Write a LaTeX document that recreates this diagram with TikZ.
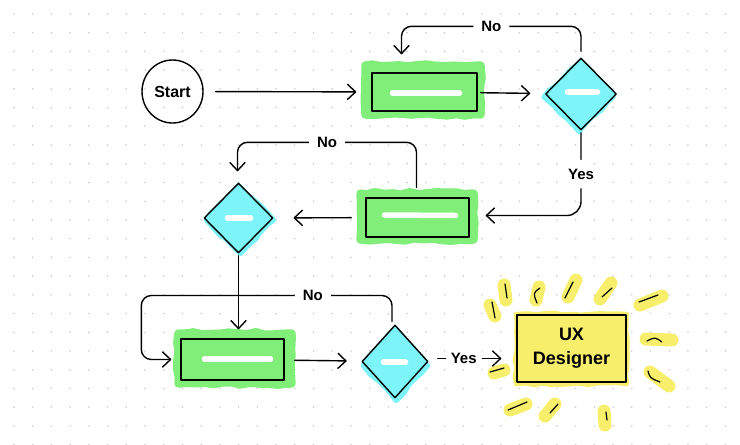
\documentclass[tikz,border=0pt]{standalone}
\usepackage{fontspec}
\setmainfont{Liberation Sans}
\usetikzlibrary{shapes.geometric, arrows.meta, calc, backgrounds, decorations.pathmorphing}

\definecolor{glowgreen}{RGB}{130,238,122}
\definecolor{glowcyan}{RGB}{125,245,248}
\definecolor{glowyellow}{RGB}{247,238,108}
\definecolor{dotgray}{RGB}{205,205,205}

\begin{document}
\begin{tikzpicture}[x=1pt, y=-1pt,
  ink/.style={draw=black, line width=1.4pt, line cap=round, line join=round},
  arr/.style={ink, -{Straight Barb[length=8pt, width=15pt, round]}},
  startnode/.style={ink, ellipse, inner sep=0pt, font=\bfseries\fontsize{16}{19}\selectfont},
  procbox/.style={ink, rectangle, inner sep=0pt},
  decision/.style={ink, diamond, inner sep=0pt},
  uxbox/.style={ink, rectangle, fill=glowyellow, inner sep=0pt, align=center, font=\bfseries\fontsize{18}{24}\selectfont},
  lab/.style={font=\bfseries\fontsize{15}{18}\selectfont, fill=white, inner xsep=8pt, inner ysep=3pt},
  wdash/.style={draw=white, line width=5.5pt, line cap=round},
  blob/.style={decoration={random steps, segment length=9pt, amplitude=1.3pt}, decorate, line width=8pt, line join=round},
  ray/.style={draw=glowyellow, line width=13pt, line cap=round},
  rayink/.style={draw=black, line width=1.2pt, line cap=round}
]
\pgfmathsetseed{11}
\useasboundingbox (0,0) rectangle (740,445);

% nodes
\node[startnode, minimum width=61pt, minimum height=63pt] (start) at (172.5,91.5) {Start};
\node[procbox, minimum width=105pt, minimum height=38pt] (box1) at (424.5,92) {};
\node[decision, minimum width=71pt, minimum height=72pt] (d1) at (581,94) {};
\node[procbox, minimum width=103pt, minimum height=39pt] (box2) at (417.5,217.5) {};
\node[decision, minimum width=69pt, minimum height=70pt] (d2) at (238.5,218) {};
\node[procbox, minimum width=103pt, minimum height=41pt] (box3) at (232.5,359.5) {};
\node[decision, minimum width=66pt, minimum height=73pt] (d3) at (395,361.5) {};
\node[uxbox, minimum width=109pt, minimum height=67pt] (ux) at (571.5,348.5) {UX\\Designer};

% background: grid, glows, rays
\begin{scope}[on background layer]
  \foreach \i in {0,...,38} {
    \foreach \j in {0,...,23} {
      \fill[dotgray] ({14+18.72*\i},{14+18.72*\j}) circle (0.9pt);
    }
  }
  % green glows
  \filldraw[glowgreen, blob] ($(box1.north west)+(-6,-7)$) rectangle ($(box1.south east)+(3,3)$);
  \filldraw[glowgreen, blob] ($(box2.north west)+(-5,-4)$) rectangle ($(box2.south east)+(4,2)$);
  \filldraw[glowgreen, blob] ($(box3.north west)+(-2,-5)$) rectangle ($(box3.south east)+(7,3)$);
  % cyan glows
  \foreach \d/\dx/\dy in {d1/-2/3, d2/2/2, d3/1/4} {
    \fill[glowcyan] (\d.west) -- (\d.north) -- (\d.east) -- (\d.south) -- cycle;
    \filldraw[glowcyan, blob, line width=5pt] ($(\d.west)+(\dx+1,\dy)$) -- ($(\d.north)+(\dx,\dy+3)$) -- ($(\d.east)+(\dx-2,\dy)$) -- ($(\d.south)+(\dx,\dy-2)$) -- cycle;
  }
  % yellow glow
  \filldraw[glowyellow, blob, line width=5pt] ($(ux.north west)+(0,0)$) rectangle ($(ux.south east)+(0,1)$);
  % rays
  \draw[ray] (490,305) -- (495,316);
  \draw[ray] (504,285) -- (506,300);
  \draw[ray] (539,287) -- (536,300);
  \draw[ray] (576,280) -- (568,297);
  \draw[ray] (611,283) -- (600,299);
  \draw[ray] (662,296) -- (640,305);
  \draw[ray] (646,339) -- (672,340);
  \draw[ray] (650,372) -- (669,386);
  \draw[ray] (494,373) -- (504,370);
  \draw[ray] (510,410) -- (526,404);
  \draw[ray] (545,416) -- (555,404);
  \draw[ray] (604,411) -- (605,425);
\end{scope}

% ray ink
\draw[rayink] (492,302) .. controls (494,310) .. (495,318);
\draw[rayink] (505,284) -- (507,298);
\draw[rayink] (540,288) .. controls (533,293) .. (537,303);
\draw[rayink] (573,282) -- (565,298);
\draw[rayink] (612,288) -- (602,297);
\draw[rayink] (658,295) -- (639,302);
\draw[rayink] (647,341) .. controls (655,337) .. (662,342);
\draw[rayink] (648,371) .. controls (650,378) .. (660,382);
\draw[rayink] (490,372) -- (504,368);
\draw[rayink] (508,410) -- (527,402);
\draw[rayink] (550,413) -- (558,404);
\draw[rayink] (606,412) -- (607,420);

% white dashes
\draw[wdash] ($(box1.center)+(-32,1)$) -- ($(box1.center)+(35,1)$);
\draw[wdash] ($(d1.center)+(-13.5,-2)$) -- ($(d1.center)+(16.5,-2)$);
\draw[wdash] ($(box2.center)+(-33,-2.5)$) -- ($(box2.center)+(38,-2)$);
\draw[wdash] ($(d2.center)+(-11,0)$) -- ($(d2.center)+(12,0)$);
\draw[wdash] ($(box3.center)+(-28,-0.5)$) -- ($(box3.center)+(38,-0.5)$);
\draw[wdash] ($(d3.center)+(-11.5,0.5)$) -- ($(d3.center)+(10.5,0.5)$);

% connectors
\draw[arr, shorten <=12pt, shorten >=15pt] (start) -- (box1);
\draw[arr, shorten <=3pt, shorten >=15pt] (box1) -- (d1);
\draw[arr, rounded corners=10pt] ($(d1.north)+(0,-6)$) |- node[lab, pos=0.75] {No} ($(box1.north)+(-23,-46)$) -- ($(box1.north)+(-23,-18)$);
\draw[arr, rounded corners=14pt] ($(d1.south)+(0,2)$) |- node[lab, pos=0.25, inner xsep=3pt, inner ysep=9pt] {Yes} ($(box2.east)+(16,-2)$);
\draw[arr, shorten <=14pt, shorten >=20pt] (box2) -- (d2);
\draw[arr, rounded corners=10pt] ($(box2.north)+(-1,-10)$) |- node[lab, pos=0.75] {No} ($(d2.north)+(-1,-40)$) -- ($(d2.north)+(-1,-11)$);
\draw[arr, shorten <=2pt, shorten >=9pt] (d2.south) -- (d2.south |- box3.north);
\draw[arr, rounded corners=10pt] ($(d3.north)+(-3,-3)$) |- node[lab, pos=0.658] {No} ($(box3.west)+(-39,-64)$) |- ($(box3.west)+(-9,0)$);
\draw[arr, shorten <=10pt, shorten >=15pt] (box3) -- (d3);
\draw[arr, shorten <=9pt, shorten >=15pt] ($(d3.east)+(0,-3)$) -- node[lab, pos=0.40, inner xsep=5pt] {Yes} ($(d3.east -| ux.west)+(0,-3)$);
\end{tikzpicture}
\end{document}
